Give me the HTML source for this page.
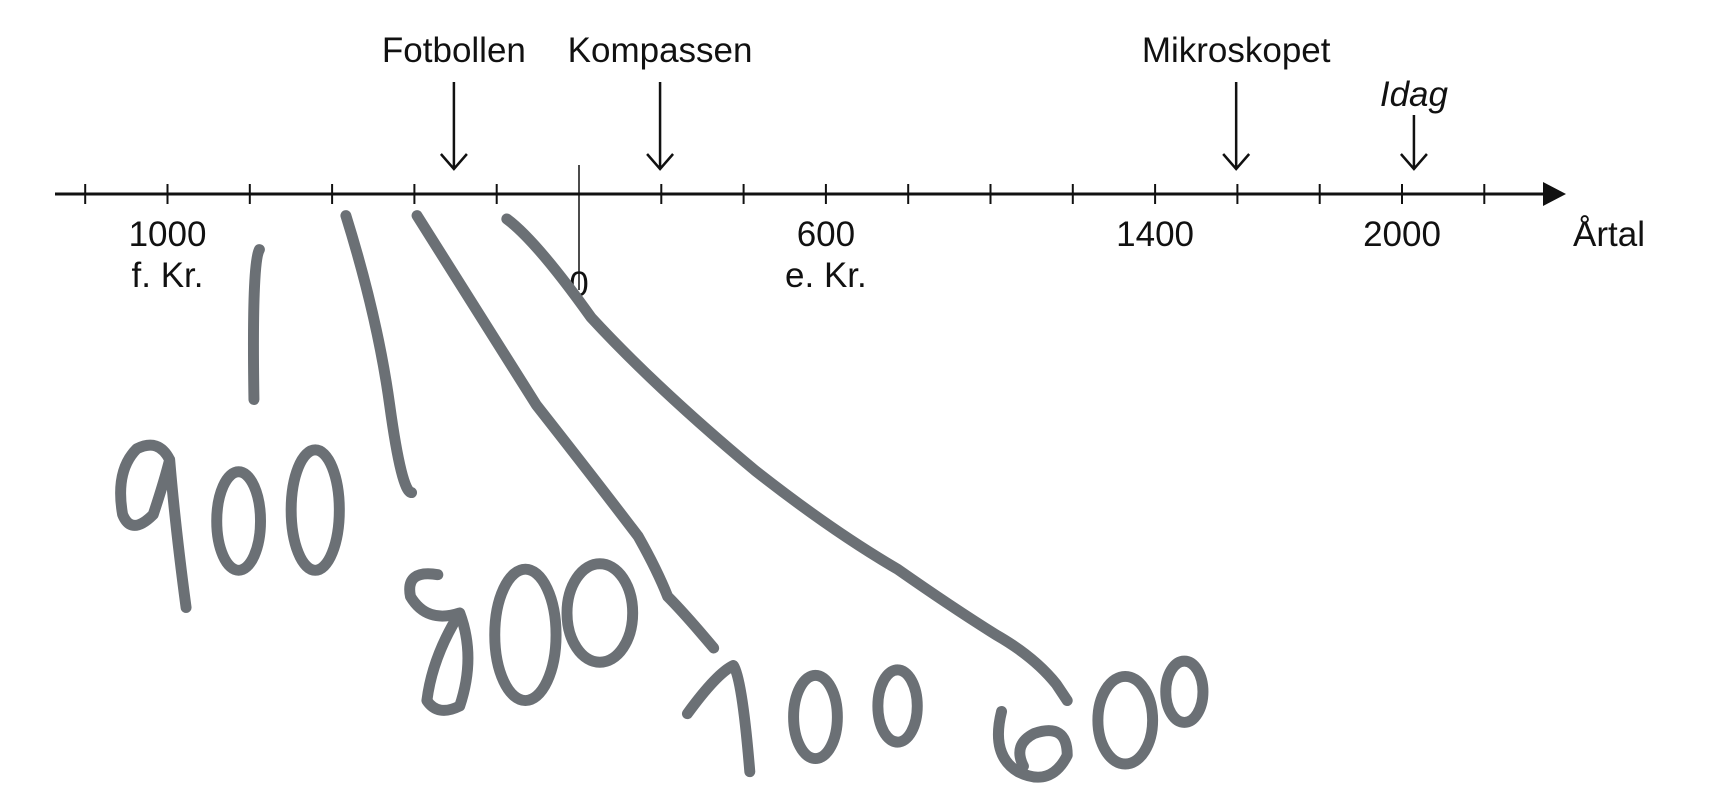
<!DOCTYPE html>
<html><head><meta charset="utf-8"><style>
html,body{margin:0;padding:0;background:#fff;width:1716px;height:800px;overflow:hidden}
svg{display:block}
text{font-family:"Liberation Sans",sans-serif;fill:#111}
</style></head><body>
<svg width="1716" height="800" viewBox="0 0 1716 800">
<g id="axis"></g>
<g id="ink" transform="scale(1.0946)" fill="none" stroke="#6b7075" stroke-width="10" stroke-linecap="round" stroke-linejoin="round">
<path d="M237,228 Q230,240 232,365"/>
<path d="M316,197 Q345,290 356,370 T376,450"/>
<path d="M381,197 Q440,290 490,370 Q545,440 583,490 Q600,520 610,545 Q625,560 652,592"/>
<path d="M463,200 Q490,220 540,290 Q600,355 690,430 Q760,485 820,520 Q870,555 910,580 Q945,600 965,625 L975,640"/>
<path d="M155,420 Q145,400 125,410 Q105,430 112,470 Q120,490 140,470 Q150,440 155,420 Q160,480 170,555"/>
<ellipse cx="218" cy="476" rx="20" ry="45"/>
<ellipse cx="288" cy="466" rx="22" ry="55"/>
<path d="M400,525 Q370,520 375,545 Q390,570 420,560 Q395,600 390,640 Q400,655 420,645 Q435,600 420,560"/>
<ellipse cx="480" cy="580" rx="28" ry="60"/>
<ellipse cx="548" cy="560" rx="30" ry="45"/>
<path d="M628,652 Q655,615 670,608 Q678,620 685,705"/>
<ellipse cx="745" cy="655" rx="20" ry="38"/>
<ellipse cx="820" cy="645" rx="18" ry="33"/>
<path d="M915,650 Q905,690 930,705 Q960,720 975,690 Q975,660 945,670 Q925,680 935,700"/>
<ellipse cx="1028" cy="658" rx="25" ry="40"/>
<ellipse cx="1082" cy="632" rx="17" ry="28"/>
</g>
</svg>
<script>
const tickYears=[-1200,-1000,-800,-600,-400,-200,0,200,400,600,800,1000,1200,1400,1600,1800,2000,2200];
const tickLabels=[[-1000,"1000","f. Kr."],[600,"600","e. Kr."],[1400,"1400",""],[2000,"2000",""]];
const eventNames=["Fotbollen","Kompassen","Mikroskopet","Idag"];
const eventYears=[-304,197,1597,2029];
const ns="http://www.w3.org/2000/svg";
const g=document.getElementById('axis');
const X=y=>579+y*82.3/200, Y0=194, FS=35;
function mk(t,a,p){const e=document.createElementNS(ns,t);for(const k in a)e.setAttribute(k,a[k]);(p||g).appendChild(e);return e;}
let l=mk('line',{x1:55,y1:Y0,x2:1548,y2:Y0,stroke:'#111','stroke-width':3});


let a=mk('polygon',{points:`1543,${Y0-12} 1566,${Y0} 1543,${Y0+12}`,fill:'#111'});


tickYears.forEach(y=>{const z=y===0;const t=mk('line',{x1:X(y),x2:X(y),y1:z?165:Y0-10,y2:z?290:Y0+10,stroke:'#111','stroke-width':z?1.5:2});

});
tickLabels.forEach(([y,a1,b])=>{const t=mk('text',{x:X(y),y:246,'text-anchor':'middle','font-size':FS});t.textContent=a1;


if(b){const u=mk('text',{x:X(y),y:287,'text-anchor':'middle','font-size':FS});u.textContent=b;

}});
let z=mk('text',{x:X(0),y:296,'text-anchor':'middle','font-size':FS});z.textContent="0";


let ar=mk('text',{x:1609,y:246,'text-anchor':'middle','font-size':FS});ar.textContent="Årtal";


eventNames.forEach((n,i)=>{const x=X(eventYears[i]);const idag=n==="Idag";const top=idag?115:82;
const t=mk('text',{x:x,y:idag?106:62,'text-anchor':'middle','font-size':FS,'font-style':idag?'italic':'normal'});t.textContent=n;


const p=mk('path',{d:`M${x},${top} L${x},169 M${x-13},154 L${x},169 L${x+13},154`,stroke:'#111','stroke-width':2.5,fill:'none'});

});
</script>
</body></html>
